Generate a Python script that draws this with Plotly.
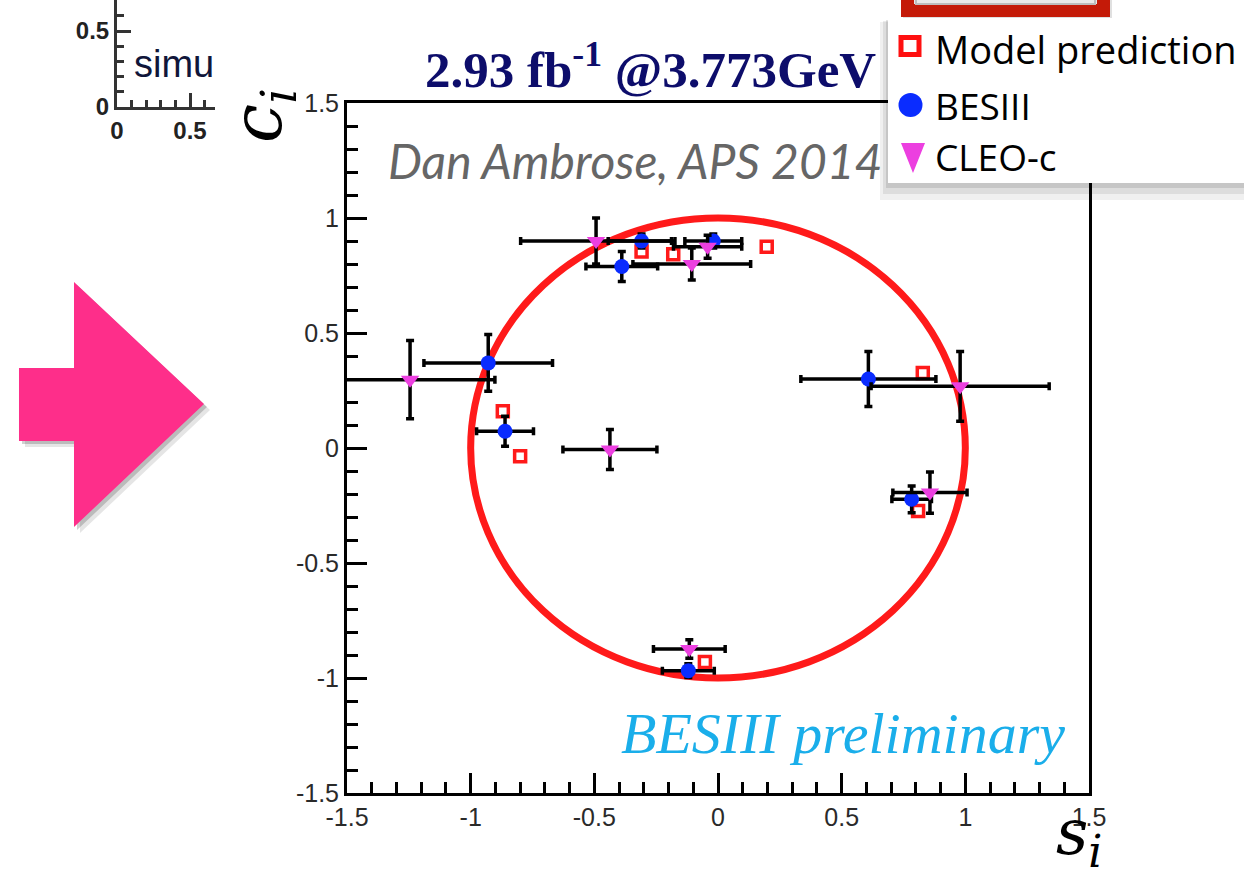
import plotly.graph_objects as go

W, H = 1244, 876
def px(x): return x / W
def py(y): return 1 - y / H

# ---------------- data ----------------
bes_s  = [-0.309, -0.389, -0.019, -0.929, -0.861, 0.608, 0.783, -0.120]
bes_c  = [0.900, 0.789, 0.900, 0.370, 0.073, 0.300, -0.223, -0.968]
bes_ds = [0.135, 0.145, 0.115, 0.260, 0.115, 0.273, 0.080, 0.105]
bes_dc = [0.030, 0.065, 0.030, 0.123, 0.065, 0.120, 0.058, 0.030]

cleo_s  = [-0.493, -0.106, -0.042, -1.245, -0.437, 0.979, 0.857, -0.116]
cleo_c  = [0.900, 0.800, 0.875, 0.297, -0.007, 0.268, -0.194, -0.874]
cleo_ds = [0.305, 0.238, 0.138, 0.343, 0.190, 0.360, 0.150, 0.145]
cleo_dc = [0.100, 0.070, 0.050, 0.170, 0.087, 0.152, 0.090, 0.040]

model_s = [-0.309, -0.181, 0.197, -0.870, -0.800, 0.828, 0.809, -0.053]
model_c = [0.854, 0.842, 0.875, 0.160, -0.036, 0.326, -0.274, -0.930]

tick_vals = [-1.5, -1, -0.5, 0, 0.5, 1, 1.5]
tick_text = ["-1.5", "-1", "-0.5", "0", "0.5", "1", "1.5"]
frag_vals = [0, 0.5]
frag_text = ["0", "0.5"]

RED = "#ff1a1a"
BLUE = "#0a2cff"
MAG = "#ec3fe0"

fig = go.Figure()

err_style = dict(type="data", symmetric=True, color="black", thickness=3.5, width=4)

fig.add_trace(go.Scatter(
    x=model_s, y=model_c, mode="markers", name="Model prediction",
    marker=dict(symbol="square", size=11, color="white", line=dict(color=RED, width=3.5)),
    showlegend=False, cliponaxis=False))
fig.add_trace(go.Scatter(
    x=bes_s, y=bes_c, mode="markers", name="BESIII",
    error_x=dict(array=bes_ds, **err_style), error_y=dict(array=bes_dc, **err_style),
    marker=dict(symbol="circle", size=15, color=BLUE), showlegend=False))
fig.add_trace(go.Scatter(
    x=cleo_s, y=cleo_c, mode="markers", name="CLEO-c",
    error_x=dict(array=cleo_ds, **err_style), error_y=dict(array=cleo_dc, **err_style),
    marker=dict(symbol="triangle-down", size=16, color=MAG), showlegend=False))

# empty trace for fragment axes
fig.add_trace(go.Scatter(x=[], y=[], xaxis="x2", yaxis="y2", showlegend=False, hoverinfo="skip"))

tickfont = dict(family="Liberation Sans Narrow, Liberation Sans, Arial", size=25, color="#2a2a2a")
axis_common = dict(range=[-1.5, 1.5], showgrid=False, zeroline=False, showline=True,
                   linecolor="black", linewidth=3, mirror=True, ticks="inside",
                   ticklen=20, tickwidth=3, tickcolor="black", automargin=False,
                   tickvals=tick_vals, ticktext=tick_text, tickfont=tickfont,
                   minor=dict(dtick=0.1, ticks="inside", ticklen=11, tickwidth=2.5, tickcolor="black"))

frag_common = dict(showgrid=False, zeroline=False, showline=True, linecolor="#333",
                   linewidth=3, ticks="inside", ticklen=14, tickwidth=3, tickcolor="#333",
                   tickvals=frag_vals, ticktext=frag_text, automargin=False,
                   tickfont=dict(family="Liberation Sans, Arial", size=24, color="#222", weight="bold"),
                   minor=dict(dtick=0.1, ticks="inside", ticklen=7, tickwidth=2.5, tickcolor="#333"))

shapes = []
# circle (unit circle in data coordinates)
shapes.append(dict(type="circle", xref="x", yref="y", x0=-1, y0=-1, x1=1, y1=1,
                   line=dict(color=RED, width=7), layer="below"))

# pink arrow with shadow
def arrow_path(dx=0, dy=0):
    pts = [(19, 368), (74, 368), (74, 282), (204, 404), (74, 527), (74, 441), (19, 441)]
    return "M " + " L ".join(f"{px(x+dx):.5f},{py(y+dy):.5f}" for x, y in pts) + " Z"
shapes.append(dict(type="path", xref="paper", yref="paper", path=arrow_path(6, 6),
                   fillcolor="rgba(0,0,0,0.10)", line=dict(width=0)))
shapes.append(dict(type="path", xref="paper", yref="paper", path=arrow_path(3, 3),
                   fillcolor="rgba(0,0,0,0.18)", line=dict(width=0)))
shapes.append(dict(type="path", xref="paper", yref="paper", path=arrow_path(),
                   fillcolor="#fe2e8a", line=dict(width=0)))

def rect(x0, y0, x1, y1, fill, line_color=None, lw=0, layer="above"):
    return dict(type="rect", xref="paper", yref="paper", x0=px(x0), x1=px(x1),
                y0=py(y1), y1=py(y0), fillcolor=fill,
                line=dict(color=line_color or "rgba(0,0,0,0)", width=lw), layer=layer)

# red framed element at top (partial)
shapes.append(rect(903, -20, 1112, 21, "rgba(0,0,0,0.12)"))
shapes.append(rect(907.5, -20, 1103.5, 10.5, "#e9e9e9", "#c41a08", 13))
shapes.append(rect(916, -20, 1095, 4, "rgba(0,0,0,0)", "#bdbdbd", 2))

# legend box with soft shadow
shapes.append(rect(880, 22, 1250, 200, "rgba(0,0,0,0.06)"))
shapes.append(rect(883, 21, 1250, 194, "rgba(0,0,0,0.08)"))
shapes.append(rect(886, 20, 1250, 188, "rgba(0,0,0,0.10)"))
shapes.append(rect(888, 18, 1250, 183, "white"))
# legend symbols
shapes.append(rect(901, 37.5, 919, 54.5, "white", "#ff1010", 5))
shapes.append(dict(type="circle", xref="paper", yref="paper", x0=px(898.5), x1=px(922.5),
                   y0=py(117), y1=py(93), fillcolor=BLUE, line=dict(width=0)))
tri = [(901, 143), (925, 143), (913, 173)]
shapes.append(dict(type="path", xref="paper", yref="paper",
                   path="M " + " L ".join(f"{px(x):.5f},{py(y):.5f}" for x, y in tri) + " Z",
                   fillcolor=MAG, line=dict(width=0)))

annotations = []
def ann(text, x, y, size, family, color, xanchor="left", yanchor="middle", angle=0, **kw):
    font = dict(size=size, family=family, color=color)
    font.update(kw)
    annotations.append(dict(text=text, x=px(x), y=py(y), xref="paper", yref="paper",
                            showarrow=False, xanchor=xanchor, yanchor=yanchor,
                            textangle=angle, font=font))

ann("2.93 fb<sup>-1</sup> @3.773GeV", 423, 66, 51, "Liberation Serif, Times New Roman", "#0d0d6b", weight="bold")
ann("<i>Dan Ambrose, APS 2014</i>", 386, 160, 48, "Lato, Open Sans", "#666666")
ann("<i>BESIII preliminary</i>", 619, 733, 58, "Liberation Serif, Times New Roman", "#1aaeea")
ann("<i>s<sub>i</sub></i>", 1079, 836, 63, "DejaVu Serif", "black", xanchor="center")
ann("<i>c<sub>i</sub></i>", 262, 116, 70, "DejaVu Serif", "black", xanchor="center", angle=-90)
ann("Model prediction", 933, 49, 38, "Open Sans, Lato", "black")
ann("BESIII", 933, 105, 37, "Open Sans, Lato", "black")
ann("CLEO-c", 933, 157, 37, "Open Sans, Lato", "black")
ann("simu", 132, 64, 38, "Liberation Sans, Arial", "#10163a")

fig.update_layout(
    width=W, height=H, margin=dict(l=0, r=0, t=0, b=0, autoexpand=False),
    paper_bgcolor="white", plot_bgcolor="rgba(0,0,0,0)",
    xaxis=dict(domain=[px(347), px(1089)], anchor="y", **axis_common),
    yaxis=dict(domain=[py(793), py(103)], anchor="x", **axis_common),
    xaxis2=dict(domain=[px(117), px(215)], anchor="y2", range=[0, 0.671], **frag_common),
    yaxis2=dict(domain=[py(107), 1], anchor="x2", range=[0, 0.704], **frag_common),
    shapes=shapes, annotations=annotations, showlegend=False,
)

fig.write_html("out.html", config={"displayModeBar": False},
               post_script="document.body.style.margin='0px';")
